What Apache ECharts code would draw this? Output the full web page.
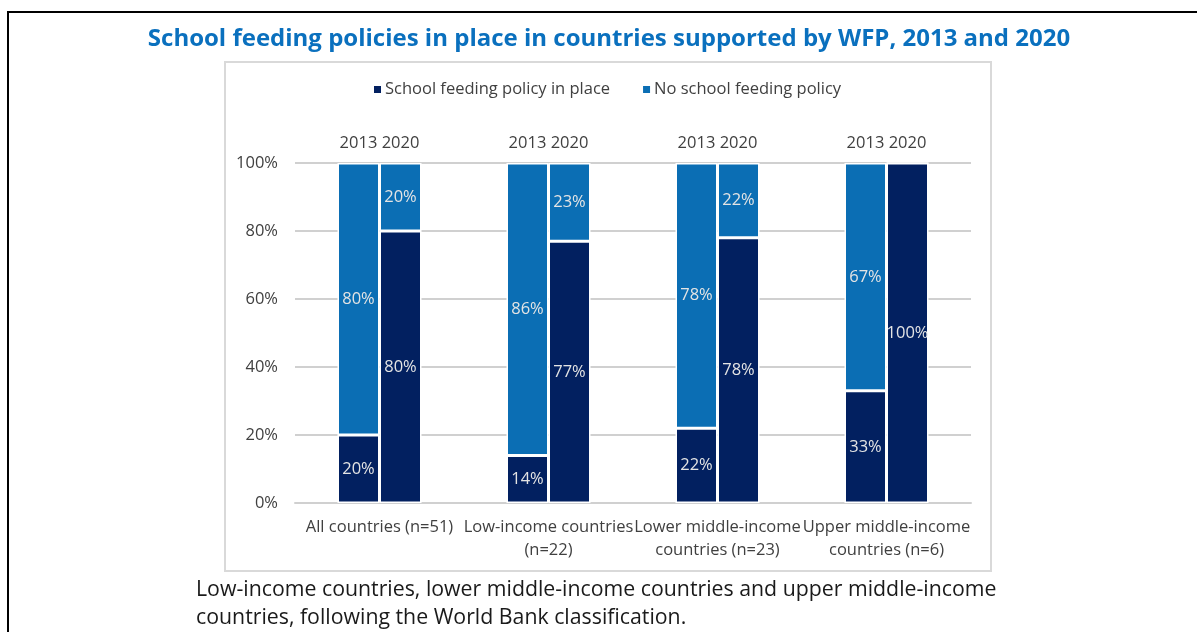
<!DOCTYPE html>
<html>
<head>
<meta charset="utf-8">
<script src="https://cdn.jsdelivr.net/npm/echarts@6/dist/echarts.min.js"></script>
<style>
html,body{margin:0;padding:0;background:#fff;}
#chart{width:1197px;height:632px;}
</style>
</head>
<body>
<div id="chart"></div>
<script>
const categories = ['All countries (n=51)', 'Low-income countries\n(n=22)', 'Lower middle-income\ncountries (n=23)', 'Upper middle-income\ncountries (n=6)'];
const yearLabels = ['2013 2020', '2013 2020', '2013 2020', '2013 2020'];
const policy2013 = [20, 14, 22, 33];
const noPolicy2013 = [80, 86, 78, 67];
const policy2020 = [80, 77, 78, 100];
const noPolicy2020 = [20, 23, 22, 0];
const yTicks = [0, 20, 40, 60, 80, 100];

const FONT = '"Open Sans", "Noto Sans", sans-serif';
const DARK = '#022060';
const BLUE = '#0B6EB4';
const TXT = '#404040';
const FS = 16.5;

const chart = echarts.init(document.getElementById('chart'));

function barSeries(name, data, stack, color) {
  return {
    name: name, type: 'bar', stack: stack, data: data,
    barWidth: 42, barGap: '0%',
    itemStyle: { color: color, borderColor: '#ffffff', borderWidth: 1.5 },
    label: {
      show: true, position: 'inside', color: '#e4e4e4', fontSize: FS, fontFamily: FONT,
      formatter: p => p.value === 0 ? '' : p.value + '%'
    },
    emphasis: { disabled: true }
  };
}

chart.setOption({
  animation: false,
  textStyle: { fontFamily: FONT },
  title: {
    text: 'School feeding policies in place in countries supported by WFP, 2013 and 2020',
    left: 604, top: 22, textAlign: 'center',
    textStyle: { color: '#0A70BE', fontSize: 24, fontWeight: 'bold', fontFamily: FONT }
  },
  legend: {
    top: 76, left: 367,
    data: ['School feeding policy in place', 'No school feeding policy'],
    icon: 'rect', itemWidth: 9, itemHeight: 9, itemGap: 31,
    textStyle: { color: TXT, fontSize: FS, fontFamily: FONT, padding: [0, 0, 0, -2] }
  },
  grid: { left: 295, right: 226, top: 163, bottom: 129 },
  xAxis: [
    {
      type: 'category', data: categories, position: 'bottom',
      axisLine: { show: true, lineStyle: { color: '#d0d0d0', width: 2 } },
      axisTick: { show: false },
      axisLabel: { color: TXT, fontSize: FS, fontFamily: FONT, margin: 13, lineHeight: 23, interval: 0 }
    },
    {
      type: 'category', data: yearLabels, position: 'top',
      axisLine: { show: false }, axisTick: { show: false },
      axisLabel: { color: TXT, fontSize: FS, fontFamily: FONT, margin: 11, interval: 0 }
    }
  ],
  yAxis: {
    type: 'value', min: 0, max: 100, interval: 20,
    axisLabel: { color: TXT, fontSize: FS, fontFamily: FONT, margin: 17, formatter: v => yTicks.includes(v) ? v + '%' : '' },
    axisLine: { show: false }, axisTick: { show: false },
    splitLine: { lineStyle: { color: '#d0d0d0', width: 2 } }
  },
  series: [
    barSeries('School feeding policy in place', policy2013, 'y2013', DARK),
    barSeries('No school feeding policy', noPolicy2013, 'y2013', BLUE),
    barSeries('School feeding policy in place', policy2020, 'y2020', DARK),
    barSeries('No school feeding policy', noPolicy2020, 'y2020', BLUE)
  ],
  graphic: [
    { type: 'rect', silent: true, z: -10, shape: { x: 8, y: 12, width: 1400, height: 800 }, style: { fill: 'none', stroke: '#000', lineWidth: 2 } },
    { type: 'rect', silent: true, z: -9, shape: { x: 225, y: 62, width: 766, height: 509 }, style: { fill: 'none', stroke: '#d9d9d9', lineWidth: 2 } },
    { type: 'text', silent: true, left: 196, top: 576, style: {
        text: 'Low-income countries, lower middle-income countries and upper middle-income\ncountries, following the World Bank classification.',
        font: '21.3px "Open Sans", sans-serif', fill: '#1a1a1a', lineHeight: 28 } }
  ]
});
</script>
</body>
</html>
